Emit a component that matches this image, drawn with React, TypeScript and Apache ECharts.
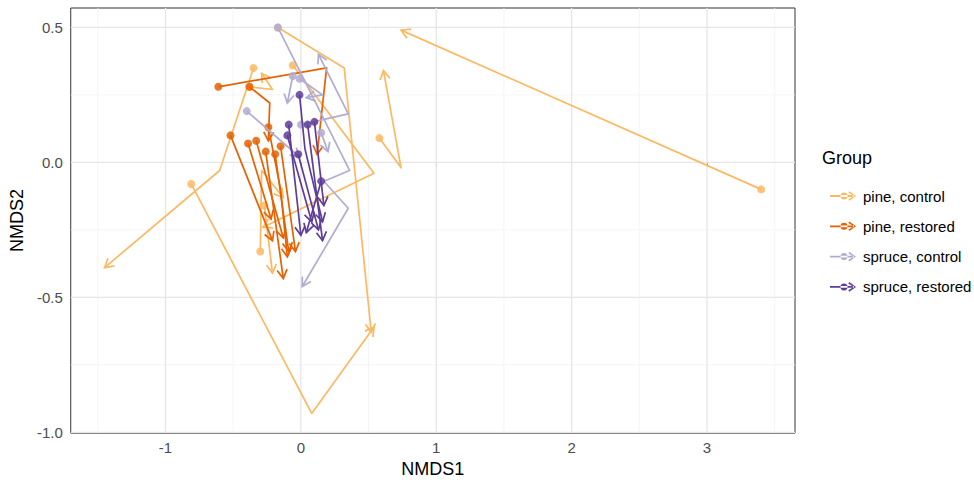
import React, { useEffect, useRef } from "react";
import * as echarts from "echarts";

const GROUPS = ["pine, control", "pine, restored", "spruce, control", "spruce, restored"];
const COLORS = ["#FDB863", "#E66101", "#B2ABD2", "#5E3C99"];

const X_TICKS = [-1, 0, 1, 2, 3];
const Y_TICKS = [-1, -0.5, 0, 0.5];
const X_MINOR = [-1.5, -0.5, 0.5, 1.5, 2.5, 3.5];
const Y_MINOR = [-0.75, -0.25, 0.25];
const X_RANGE = [-1.7, 3.65];
const Y_RANGE = [-1.003, 0.572];

// each trajectory: list of [NMDS1, NMDS2] points in time order
const pineControl: number[][][] = [
  [[3.4, -0.1], [0.74, 0.49]],
  [[0.58, 0.09], [0.74, -0.02], [0.61, 0.34]],
  [[-0.81, -0.08], [0.08, -0.93], [0.54, -0.61]],
  [[-0.35, 0.35], [-0.6, -0.03], [-1.45, -0.39]],
  [[-0.06, 0.36], [0.54, -0.04], [-0.28, -0.24]],
  [[-0.17, 0.5], [0.32, 0.35], [0.52, -0.63]],
  [[-0.3, -0.33], [-0.29, -0.03], [-0.13, -0.13]],
  [[-0.27, -0.16], [-0.21, -0.41]],
  [[-0.38, 0.28], [-0.21, 0.27], [-0.29, 0.33]],
];
const pineRestored: number[][][] = [
  [[-0.61, 0.28], [0.19, 0.35], [0.12, 0.03]],
  [[-0.38, 0.28], [-0.23, 0.22], [-0.24, 0.08]],
  [[-0.52, 0.1], [-0.21, -0.29]],
  [[-0.39, 0.07], [-0.22, -0.21]],
  [[-0.33, 0.08], [-0.13, -0.28]],
  [[-0.26, 0.04], [-0.13, -0.43]],
  [[-0.19, 0.03], [-0.09, -0.33]],
  [[-0.15, 0.06], [-0.04, -0.33]],
  [[-0.24, 0.13], [-0.15, -0.1], [-0.1, -0.35]],
];
const spruceControl: number[][][] = [
  [[-0.17, 0.5], [0.36, -0.03], [0.17, -0.07], [0.35, -0.17], [0.01, -0.46]],
  [[0.0, 0.14], [0.35, 0.18], [0.13, 0.4]],
  [[-0.06, 0.32], [-0.1, 0.22]],
  [[-0.01, 0.31], [0.16, 0.25], [0.04, 0.24]],
  [[-0.4, 0.19], [-0.01, 0.02]],
  [[0.15, 0.11], [0.2, 0.04]],
];
const spruceRestored: number[][][] = [
  [[-0.01, 0.25], [0.03, 0.05], [0.16, -0.22]],
  [[-0.09, 0.14], [0.0, -0.27]],
  [[-0.1, 0.1], [0.08, -0.22]],
  [[0.05, 0.14], [0.16, -0.29]],
  [[0.1, 0.15], [0.17, -0.16]],
  [[-0.02, 0.03], [0.13, -0.25]],
  [[0.15, -0.07], [0.04, -0.26]],
];

const TRAJS = [pineControl, pineRestored, spruceControl, spruceRestored];

const FONT = "'Liberation Sans', Arial, Helvetica, sans-serif";

const LEGEND_ICON =
  "path://M0,5.1L24,5.1L24,6.9L0,6.9Z M10.5,6A3.5,3.5 0 1,0 17.5,6A3.5,3.5 0 1,0 10.5,6Z M26,6L19.3,1.2L18.3,2.6L23.6,6L18.3,9.4L19.3,10.8Z";

export default function App() {
  const ref = useRef<HTMLDivElement>(null);

  useEffect(() => {
    if (!ref.current) return;
    const chart = echarts.init(ref.current, null, { renderer: "svg" });

    const gridLines: { dir: string; v: number; minor: boolean }[] = [
      ...X_MINOR.map((v) => ({ dir: "x", v, minor: true })),
      ...Y_MINOR.map((v) => ({ dir: "y", v, minor: true })),
      ...X_TICKS.map((v) => ({ dir: "x", v, minor: false })),
      ...Y_TICKS.map((v) => ({ dir: "y", v, minor: false })),
    ];

    const trajSeries = GROUPS.map((name, gi) => {
      const trajs = TRAJS[gi];
      const color = COLORS[gi];
      return {
        type: "custom",
        name,
        z: 3 + gi,
        itemStyle: { color },
        data: trajs.map((t) => [t[0][0], t[0][1]]),
        encode: { x: 0, y: 1 },
        renderItem: (params: any, api: any) => {
          const t = trajs[params.dataIndex];
          const pts = t.map((p) => api.coord(p));
          const n = pts.length;
          const [x1, y1] = pts[n - 2];
          const [x2, y2] = pts[n - 1];
          const ang = Math.atan2(y2 - y1, x2 - x1);
          const L = 10;
          const a = Math.PI / 6;
          const h1 = [x2 - L * Math.cos(ang - a), y2 - L * Math.sin(ang - a)];
          const h2 = [x2 - L * Math.cos(ang + a), y2 - L * Math.sin(ang + a)];
          return {
            type: "group",
            children: [
              {
                type: "polyline",
                shape: { points: pts },
                style: { stroke: color, lineWidth: 1.7, fill: "none", lineJoin: "round" },
              },
              {
                type: "polyline",
                shape: { points: [h1, [x2, y2], h2] },
                style: { stroke: color, lineWidth: 1.7, fill: "none", lineJoin: "miter" },
              },
              {
                type: "circle",
                shape: { cx: pts[0][0], cy: pts[0][1], r: 4 },
                style: { fill: color, opacity: 0.85 },
              },
            ],
          };
        },
      };
    });

    const option: any = {
      animation: false,
      backgroundColor: "#ffffff",
      textStyle: { fontFamily: FONT },
      title: {
        text: "Group",
        left: 822,
        top: 149,
        padding: 0,
        textStyle: { fontSize: 18, fontWeight: "normal", color: "#000", fontFamily: FONT },
      },
      legend: {
        orient: "vertical",
        left: 825,
        top: 183,
        itemWidth: 26,
        itemHeight: 10,
        itemGap: 14.3,
        data: GROUPS.map((g) => ({ name: g, icon: LEGEND_ICON })),
        textStyle: {
          fontSize: 15,
          lineHeight: 16,
          color: "#000",
          fontFamily: FONT,
          padding: [0, 0, 0, 2],
        },
      },
      grid: {
        left: 70,
        right: 179,
        top: 8,
        bottom: 46,
        show: true,
        borderColor: "#333333",
        borderWidth: 1,
        backgroundColor: "#ffffff",
        z: 0,
      },
      xAxis: {
        type: "value",
        min: X_RANGE[0],
        max: X_RANGE[1],
        name: "NMDS1",
        nameLocation: "middle",
        nameGap: 20,
        nameTextStyle: { fontSize: 18, color: "#000", fontFamily: FONT },
        axisLine: { show: false },
        splitLine: { show: false },
        axisTick: {
          show: true,
          length: 4,
          customValues: X_TICKS,
          lineStyle: { color: "#333333", width: 1 },
        },
        axisLabel: {
          customValues: X_TICKS,
          margin: 7,
          fontSize: 15,
          color: "#4d4d4d",
          fontFamily: FONT,
          formatter: (v: number) => String(v),
        },
      },
      yAxis: {
        type: "value",
        min: Y_RANGE[0],
        max: Y_RANGE[1],
        name: "NMDS2",
        nameLocation: "middle",
        nameGap: 39,
        nameRotate: 90,
        nameTextStyle: { fontSize: 18, color: "#000", fontFamily: FONT },
        axisLine: { show: false },
        splitLine: { show: false },
        axisTick: {
          show: true,
          length: 4,
          customValues: Y_TICKS,
          lineStyle: { color: "#333333", width: 1 },
        },
        axisLabel: {
          customValues: Y_TICKS,
          margin: 8,
          fontSize: 15,
          color: "#4d4d4d",
          fontFamily: FONT,
          formatter: (v: number) => v.toFixed(1),
        },
      },
      series: [
        {
          type: "custom",
          name: "gridlines",
          silent: true,
          z: 1,
          data: gridLines.map((g) => (g.dir === "x" ? [g.v, Y_RANGE[0]] : [X_RANGE[0], g.v])),
          encode: { x: 0, y: 1 },
          renderItem: (params: any, api: any) => {
            const g = gridLines[params.dataIndex];
            const p1 = g.dir === "x" ? api.coord([g.v, Y_RANGE[0]]) : api.coord([X_RANGE[0], g.v]);
            const p2 = g.dir === "x" ? api.coord([g.v, Y_RANGE[1]]) : api.coord([X_RANGE[1], g.v]);
            return {
              type: "line",
              shape: { x1: p1[0], y1: p1[1], x2: p2[0], y2: p2[1] },
              style: {
                stroke: g.minor ? "#f2f2f2" : "#e6e6e6",
                lineWidth: g.minor ? 0.8 : 1.3,
              },
            };
          },
        },
        ...trajSeries,
      ],
    };

    chart.setOption(option);
    return () => chart.dispose();
  }, []);

  return (
    <div
      ref={ref}
      style={{ position: "absolute", left: 0, top: 0, width: 974, height: 483 }}
    />
  );
}
